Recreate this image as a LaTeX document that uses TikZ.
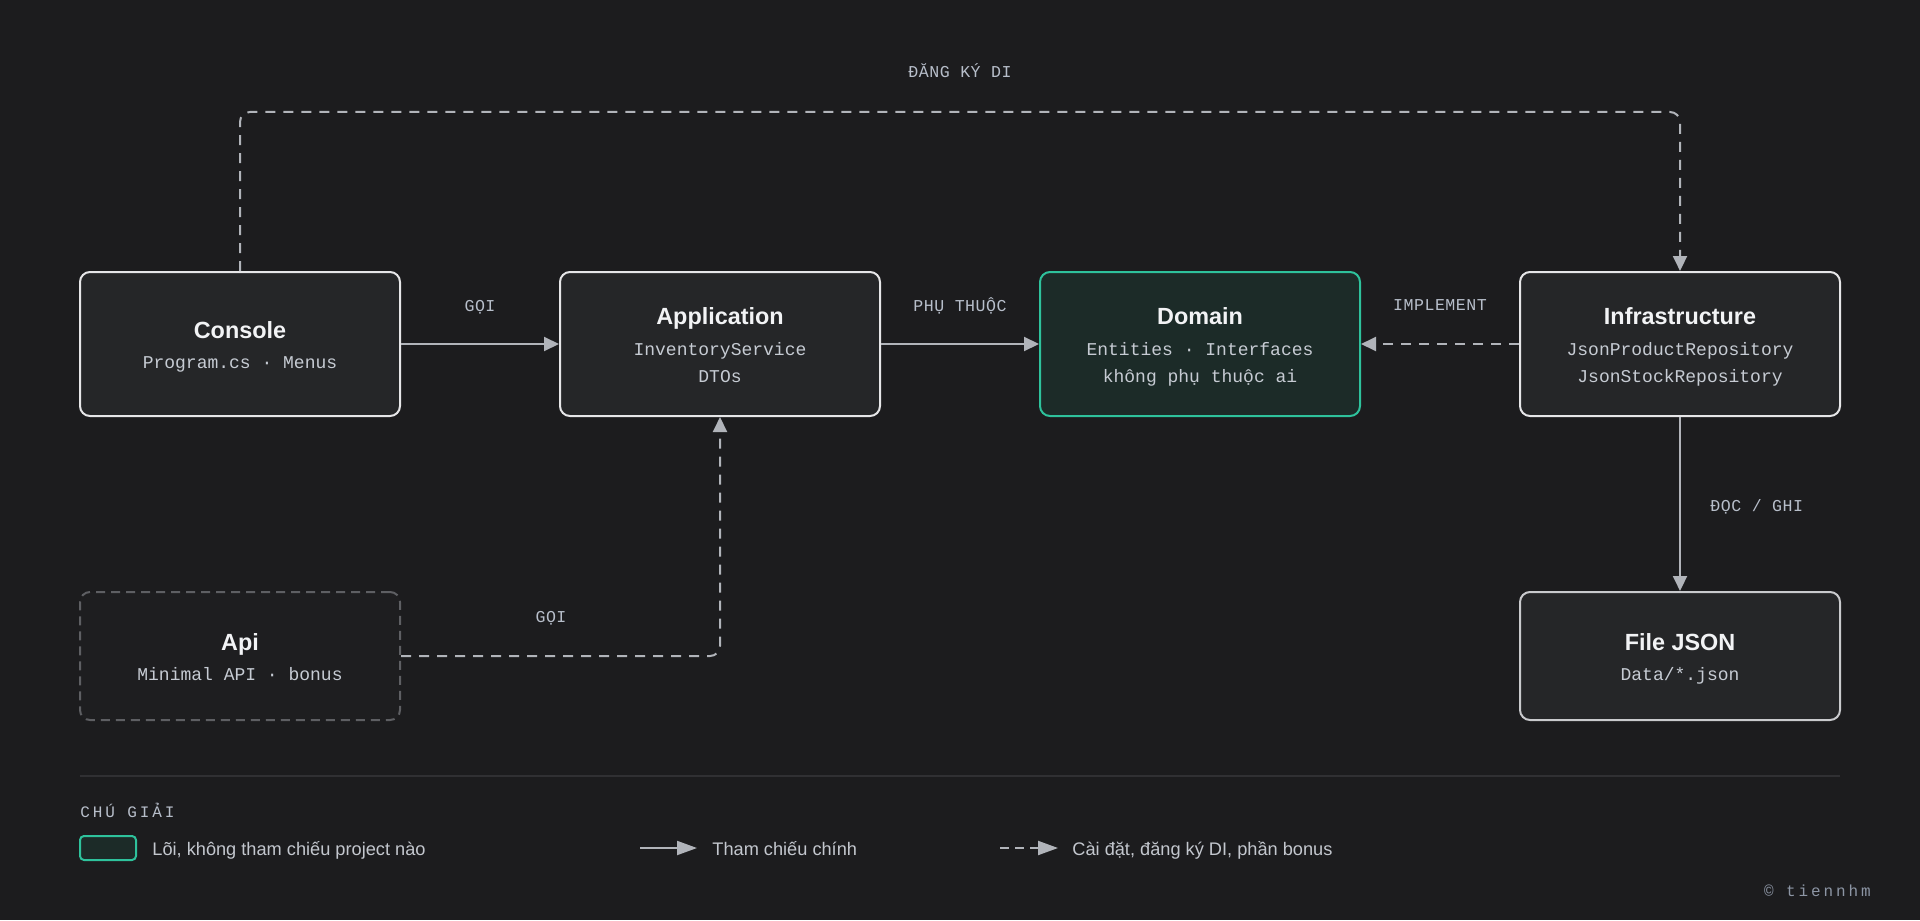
\documentclass[tikz,border=0pt]{standalone}
\usepackage{fontspec}
\setmainfont{Liberation Sans}
\newfontfamily\titlefont{Liberation Sans}
\newfontfamily\monofont{Liberation Mono}
\newfontfamily\lblfont[LetterSpace=3]{Liberation Mono}
\newfontfamily\widefont[LetterSpace=18]{Liberation Mono}
\usetikzlibrary{arrows.meta,calc}
\definecolor{bg}{HTML}{1C1C1E}
\definecolor{boxfill}{HTML}{252628}
\definecolor{boxline}{HTML}{E6E6E8}
\definecolor{jsonline}{HTML}{C9CACD}
\definecolor{apiline}{HTML}{5E5F63}
\definecolor{apifill}{HTML}{1E1E20}
\definecolor{domfill}{HTML}{1C2B28}
\definecolor{domline}{HTML}{2EC29C}
\definecolor{titlecol}{HTML}{F2F3F5}
\definecolor{subcol}{HTML}{C6CBD3}
\definecolor{lblcol}{HTML}{B7BECA}
\definecolor{arrcol}{HTML}{B1B4BA}
\definecolor{sepcol}{HTML}{303033}
\definecolor{legcol}{HTML}{C3C7CE}
\definecolor{copycol}{HTML}{8C95A4}
\tikzset{
  box/.style={draw=boxline, line width=1pt, fill=boxfill, rounded corners=5pt,
    minimum width=160pt, minimum height=72pt, inner sep=0pt},
  ttl/.style={anchor=base, text=titlecol, inner sep=0pt,
    font=\titlefont\bfseries\fontsize{11.7pt}{13pt}\selectfont},
  sub/.style={anchor=base, text=subcol, inner sep=0pt,
    font=\monofont\fontsize{9pt}{11pt}\selectfont},
  lbl/.style={anchor=base, text=lblcol, inner sep=0pt,
    font=\lblfont\fontsize{8.3pt}{10pt}\selectfont},
  legtxt/.style={anchor=base west, text=legcol, inner sep=0pt,
    font=\fontsize{9.1pt}{11pt}\selectfont},
  arr/.style={draw=arrcol, line width=1pt, -{Triangle[length=7.5pt,width=7pt]}},
  dsh/.style={arr, dash pattern=on 5pt off 4pt},
}
\begin{document}
\begin{tikzpicture}[x=0.5pt, y=-0.5pt]
\fill[bg] (0,0) rectangle (1920,920);
\useasboundingbox (0,0) rectangle (1920,920);

% boxes
\node[box] (console) at (240,344) {};
\node[box] (app) at (720,344) {};
\node[box, fill=domfill, draw=domline] (domain) at (1200,344) {};
\node[box] (infra) at (1680,344) {};
\node[box, draw=jsonline, minimum height=64pt] (json) at (1680,656) {};
\node[box, draw=apiline, fill=apifill, minimum height=64pt, dash pattern=on 4.5pt off 3pt] (api) at (240,656) {};

% box texts
\node[ttl] (console-t) at ($(console)+(0,-6)$) {Console};
\node[sub] (console-s) at ($(console)+(0,24)$) {Program.cs · Menus};

\node[ttl] (app-t) at ($(app)+(0,-20)$) {Application};
\node[sub] (app-s1) at ($(app)+(0,11)$) {InventoryService};
\node[sub] (app-s2) at ($(app)+(0,38)$) {DTOs};

\node[ttl] (domain-t) at ($(domain)+(0,-20)$) {Domain};
\node[sub] (domain-s1) at ($(domain)+(0,11)$) {Entities · Interfaces};
\node[sub] (domain-s2) at ($(domain)+(0,38)$) {không phụ thuộc ai};

\node[ttl] (infra-t) at ($(infra)+(0,-20)$) {Infrastructure};
\node[sub] (infra-s1) at ($(infra)+(0,11)$) {JsonProductRepository};
\node[sub] (infra-s2) at ($(infra)+(0,38)$) {JsonStockRepository};

\node[ttl] (json-t) at ($(json)+(0,-6)$) {File JSON};
\node[sub] (json-s) at ($(json)+(0,24)$) {Data/*.json};

\node[ttl] (api-t) at ($(api)+(0,-6)$) {Api};
\node[sub] (api-s) at ($(api)+(0,24)$) {Minimal API · bonus};

% connectors
\draw[arr] (console) -- (app);
\draw[arr] (app) -- (domain);
\draw[dsh] (infra) -- (domain);
\draw[arr] (infra) -- (json);
\coordinate (diy) at (960,112);
\draw[dsh, rounded corners=5pt] (console.north) |- (diy) -| (infra.north);
\draw[dsh, rounded corners=5pt] (api.east) -| (app.south);

% connector labels
\node[lbl] (l-goi) at (480,311) {GỌI};
\node[lbl] (l-phu) at (960,311) {PHỤ THUỘC};
\node[lbl] (l-impl) at (1440,310) {IMPLEMENT};
\node[lbl] (l-di) at (960,78) {ĐĂNG KÝ DI};
\node[lbl, anchor=base west] (l-doc) at (1710,511) {ĐỌC / GHI};
\node[lbl] (l-goi2) at (551,622) {GỌI};

% legend
\coordinate (sepA) at (80,776);
\coordinate (sepB) at (1840,776);
\draw[sepcol, line width=1pt] (sepA) -- (sepB);
\node[anchor=base west, inner sep=0pt, text=lblcol, font=\widefont\fontsize{8pt}{10pt}\selectfont] (leg-title) at (80,817) {CHÚ GIẢI};
\node[draw=domline, fill=domfill, line width=1pt, rounded corners=2pt, minimum width=28pt, minimum height=12pt, inner sep=0pt] (leg-sw) at (108,848) {};
\node[legtxt] (leg-t1) at (152,855) {Lõi, không tham chiếu project nào};
\coordinate (ls1) at (640,848);
\coordinate (ls2) at (697,848);
\draw[arr, -{Triangle[length=10pt,width=7pt]}] (ls1) -- (ls2);
\node[legtxt] (leg-t2) at (712,855) {Tham chiếu chính};
\coordinate (ld1) at (1000,848);
\coordinate (ld2) at (1058,848);
\draw[arr, -{Triangle[length=10pt,width=7pt]}, dash pattern=on 4.5pt off 3pt] (ld1) -- (ld2);
\node[legtxt] (leg-t3) at (1072,855) {Cài đặt, đăng ký DI, phần bonus};

\node[anchor=base east, inner sep=0pt, text=copycol, font=\widefont\fontsize{8pt}{10pt}\selectfont] (copy) at (1871,896) {© tiennhm};
\end{tikzpicture}
\end{document}
